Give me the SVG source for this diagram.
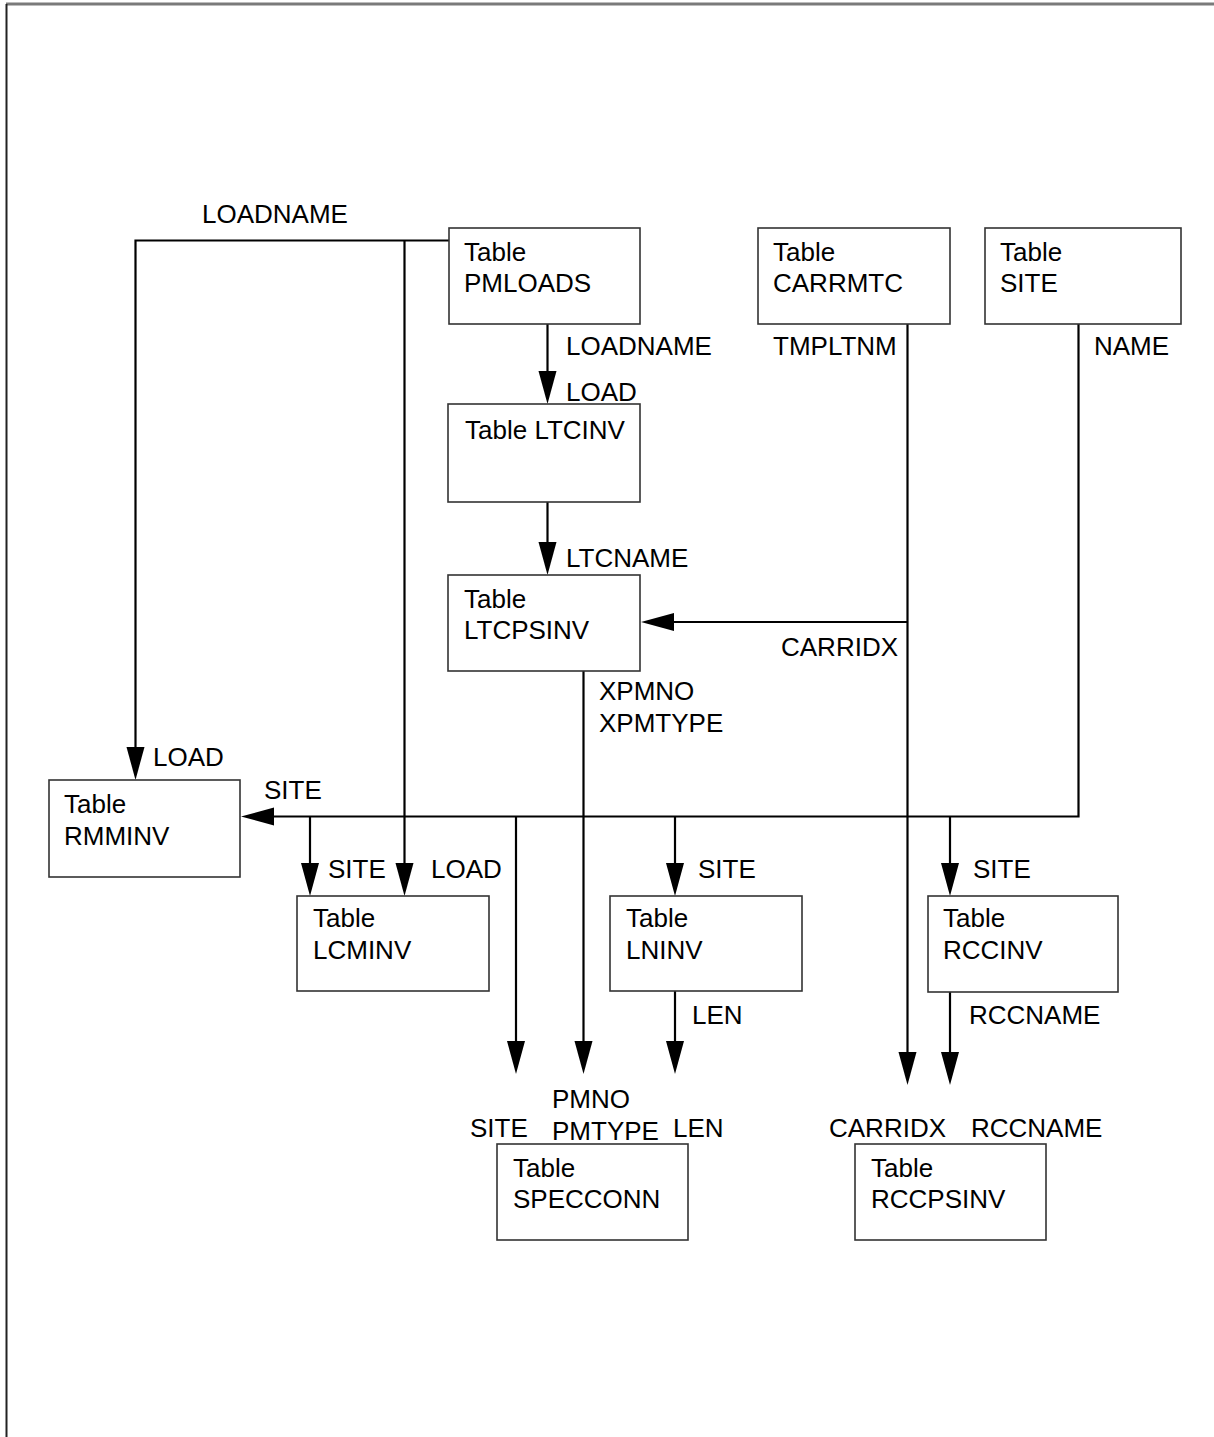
<svg xmlns="http://www.w3.org/2000/svg" width="1214" height="1437" viewBox="0 0 1214 1437">
<style>
text{font-family:"Liberation Sans",Arial,sans-serif;font-size:26px;fill:#000}
.box{fill:#fff;stroke:#333;stroke-width:1.6}
.c{fill:none;stroke:#000;stroke-width:2.2}
</style>
<defs>
<marker id="ah" markerUnits="userSpaceOnUse" markerWidth="34" markerHeight="20" refX="23" refY="9" orient="auto" viewBox="0 0 34 20">
<path d="M0,0 L33,9 L0,18 Z" fill="#000"/>
</marker>
</defs>
<rect width="1214" height="1437" fill="#fff"/>
<g id="frame">
<line x1="6" y1="4" x2="1214" y2="4" stroke="#7a7a7a" stroke-width="3"/>
<line x1="6.5" y1="4" x2="6.5" y2="1437" stroke="#222" stroke-width="2"/>
</g>
<g id="connectors">
<path class="c" d="M449,240.5 H135.5 V770" marker-end="url(#ah)"/>
<path class="c" d="M404.5,240.5 V886" marker-end="url(#ah)"/>
<path class="c" d="M547.5,324 V394" marker-end="url(#ah)"/>
<path class="c" d="M547.5,502 V565" marker-end="url(#ah)"/>
<path class="c" d="M907.5,324 V1075" marker-end="url(#ah)"/>
<path class="c" d="M907.5,622 H651" marker-end="url(#ah)"/>
<path class="c" d="M1078.5,324 V816.5 H251" marker-end="url(#ah)"/>
<path class="c" d="M310,816.5 V886" marker-end="url(#ah)"/>
<path class="c" d="M516,816.5 V1064" marker-end="url(#ah)"/>
<path class="c" d="M675,816.5 V886" marker-end="url(#ah)"/>
<path class="c" d="M950,816.5 V886" marker-end="url(#ah)"/>
<path class="c" d="M583.5,671 V1064" marker-end="url(#ah)"/>
<path class="c" d="M675,991 V1064" marker-end="url(#ah)"/>
<path class="c" d="M950,991 V1075" marker-end="url(#ah)"/>
</g>
<g id="labels">
<text x="202" y="223">LOADNAME</text>
<text x="566" y="355">LOADNAME</text>
<text x="566" y="401">LOAD</text>
<text x="566" y="567">LTCNAME</text>
<text x="773" y="355">TMPLTNM</text>
<text x="1094" y="355">NAME</text>
<text x="781" y="656">CARRIDX</text>
<text x="599" y="700">XPMNO</text>
<text x="599" y="732">XPMTYPE</text>
<text x="153" y="766">LOAD</text>
<text x="264" y="799">SITE</text>
<text x="328" y="878">SITE</text>
<text x="431" y="878">LOAD</text>
<text x="698" y="878">SITE</text>
<text x="973" y="878">SITE</text>
<text x="692" y="1024">LEN</text>
<text x="969" y="1024">RCCNAME</text>
<text x="552" y="1108">PMNO</text>
<text x="470" y="1137">SITE</text>
<text x="552" y="1140">PMTYPE</text>
<text x="673" y="1137">LEN</text>
<text x="829" y="1137">CARRIDX</text>
<text x="971" y="1137">RCCNAME</text>
</g>
<g id="pmloads"><rect class="box" x="449" y="228" width="191" height="96"/><text x="464" y="261">Table</text><text x="464" y="292">PMLOADS</text></g>
<g id="carrmtc"><rect class="box" x="758" y="228" width="192" height="96"/><text x="773" y="261">Table</text><text x="773" y="292">CARRMTC</text></g>
<g id="site"><rect class="box" x="985" y="228" width="196" height="96"/><text x="1000" y="261">Table</text><text x="1000" y="292">SITE</text></g>
<g id="ltcinv"><rect class="box" x="448" y="404" width="192" height="98"/><text x="465" y="439">Table LTCINV</text></g>
<g id="ltcpsinv"><rect class="box" x="448" y="575" width="192" height="96"/><text x="464" y="608">Table</text><text x="464" y="639">LTCPSINV</text></g>
<g id="rmminv"><rect class="box" x="49" y="780" width="191" height="97"/><text x="64" y="813">Table</text><text x="64" y="845">RMMINV</text></g>
<g id="lcminv"><rect class="box" x="297" y="896" width="192" height="95"/><text x="313" y="927">Table</text><text x="313" y="959">LCMINV</text></g>
<g id="lninv"><rect class="box" x="610" y="896" width="192" height="95"/><text x="626" y="927">Table</text><text x="626" y="959">LNINV</text></g>
<g id="rccinv"><rect class="box" x="928" y="896" width="190" height="96"/><text x="943" y="927">Table</text><text x="943" y="959">RCCINV</text></g>
<g id="specconn"><rect class="box" x="497" y="1144" width="191" height="96"/><text x="513" y="1177">Table</text><text x="513" y="1208">SPECCONN</text></g>
<g id="rccpsinv"><rect class="box" x="855" y="1144" width="191" height="96"/><text x="871" y="1177">Table</text><text x="871" y="1208">RCCPSINV</text></g>
</svg>
